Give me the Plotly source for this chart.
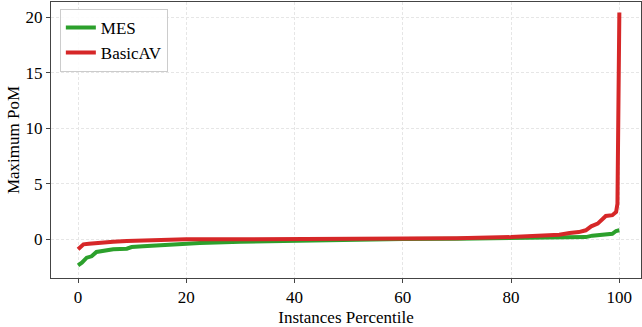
import plotly.graph_objects as go

mes_x = [0, 0.7, 1.6, 2.5, 3.4, 5, 6.5, 9, 9.9, 12, 13.9, 17.6, 22.5, 30, 40, 50, 55, 60, 70, 80, 85, 90, 93.8, 95, 97, 98.7, 99.4, 100]
mes_y = [-2.34, -2.1, -1.65, -1.53, -1.14, -1.0, -0.9, -0.84, -0.69, -0.62, -0.57, -0.45, -0.33, -0.22, -0.12, -0.05, 0.0, 0.02, 0.06, 0.1, 0.13, 0.17, 0.2, 0.33, 0.42, 0.5, 0.75, 0.82]

bav_x = [0, 0.5, 1, 2, 3.4, 5, 6.5, 9, 12, 15, 20, 30, 40, 50, 60, 70, 80, 85, 88.9, 90.8, 92.5, 93.8, 94.8, 96, 96.8, 97.5, 98.7, 99.4, 99.65, 99.9, 100]
bav_y = [-0.9, -0.7, -0.45, -0.4, -0.33, -0.27, -0.21, -0.15, -0.1, -0.05, 0.0, 0.0, 0.02, 0.04, 0.07, 0.1, 0.2, 0.3, 0.42, 0.57, 0.65, 0.81, 1.17, 1.41, 1.8, 2.1, 2.17, 2.46, 3.2, 20.4, 20.4]

x_ticks = [0, 20, 40, 60, 80, 100]
y_ticks = [0, 5, 10, 15, 20]

font = "'Liberation Serif', 'Times New Roman', Times, serif"

fig = go.Figure()
fig.add_trace(go.Scatter(x=mes_x, y=mes_y, mode="lines", name="MES",
                         line=dict(color="#2ca02c", width=4)))
fig.add_trace(go.Scatter(x=bav_x, y=bav_y, mode="lines", name="BasicAV",
                         line=dict(color="#d62728", width=4)))

axis_common = dict(showline=True, linecolor="#444", linewidth=1, mirror=True,
                   showgrid=True, gridcolor="#e6e6e6", griddash="3px,2px", gridwidth=1,
                   zeroline=False, ticks="outside", ticklen=4, tickcolor="#444",
                   tickfont=dict(family=font, size=17, color="black"))

fig.update_layout(
    width=642, height=327,
    margin=dict(l=51, r=1, t=2, b=49),
    paper_bgcolor="white", plot_bgcolor="white",
    font=dict(family=font, size=16, color="black"),
    xaxis=dict(range=[-5, 104], tickvals=x_ticks,
               title=dict(text="Instances Percentile", font=dict(family=font, size=17), standoff=4),
               **axis_common),
    yaxis=dict(range=[-3.48, 21.35], tickvals=y_ticks,
               title=dict(text="Maximum PoM", font=dict(family=font, size=17), standoff=1),
               **axis_common),
    legend=dict(x=0.015, y=0.975, xanchor="left", yanchor="top",
                bgcolor="rgba(255,255,255,0.85)", bordercolor="#cccccc", borderwidth=1,
                font=dict(family=font, size=17), tracegroupgap=2),
    showlegend=True,
)

fig.write_html("out.html")
